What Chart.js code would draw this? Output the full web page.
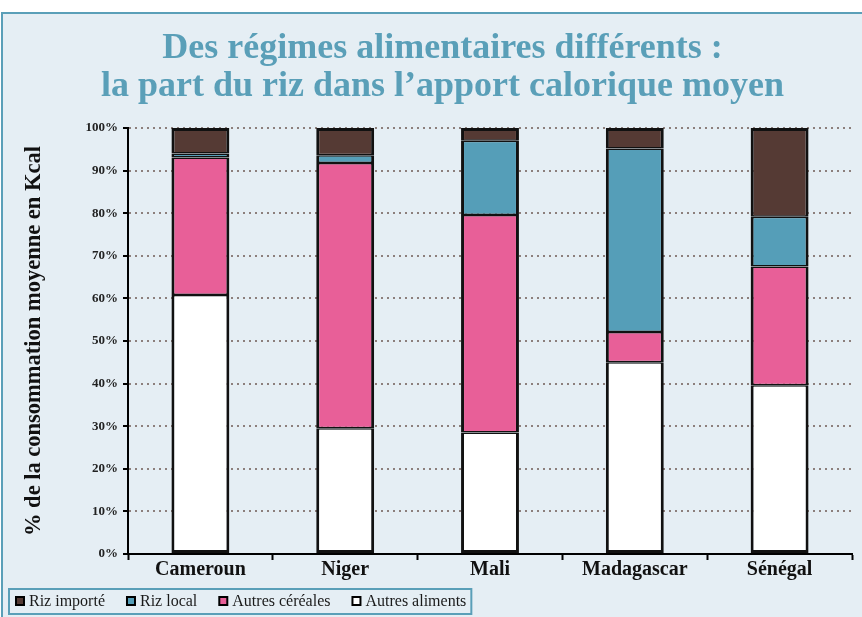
<!DOCTYPE html>
<html lang="fr">
<head>
    <meta charset="UTF-8">
    <title>Des régimes alimentaires différents</title>
    <script src="https://cdn.jsdelivr.net/npm/chart.js"></script>
    <style>
        html, body { margin: 0; padding: 0; background: #fff; overflow: hidden; }
        #frame {
            position: absolute; left: 1px; top: 12px;
            width: 900px; height: 640px;
            border: 2px solid #5a9fb8;
            background: #e5eef4;
        }
        #frame canvas { position: absolute; left: 0; top: 0; }
    </style>
</head>
<body>
    <div id="frame">
        <canvas id="chart" width="875" height="603"></canvas>
    </div>

    <script>
        // données (en % de l'apport calorique)
        const pays = ['Cameroun', 'Niger', 'Mali', 'Madagascar', 'Sénégal'];
        const autresAliments = [60.8, 29.5, 28.5, 45.0, 39.6];
        const autresCereales = [32.3, 62.3, 51.1, 7.1, 27.9];
        const rizLocal = [0.9, 1.8, 17.4, 43.1, 11.7];
        const rizImporte = [6.0, 6.4, 3.0, 4.8, 20.8];
        const graduations = [0, 10, 20, 30, 40, 50, 60, 70, 80, 90, 100];

        const serif = "'Liberation Serif', 'DejaVu Serif', serif";

        // légende dessinée à la main, dans un cadre
        const legendeEncadree = {
            id: 'legendeEncadree',
            afterDraw(chart) {
                const ctx = chart.ctx;
                const items = chart.data.datasets.slice().reverse();
                ctx.save();
                ctx.font = '16px ' + serif;
                ctx.textBaseline = 'middle';
                const y = 587;
                let x = 13;
                const boxLeft = 6;
                items.forEach(ds => {
                    ctx.fillStyle = ds.backgroundColor;
                    ctx.fillRect(x, y - 4, 8, 8);
                    ctx.lineWidth = 2;
                    ctx.strokeStyle = '#000';
                    ctx.strokeRect(x, y - 4, 8, 8);
                    ctx.fillStyle = '#1a1a1a';
                    ctx.fillText(ds.label, x + 13, y + 1);
                    x += 13 + ctx.measureText(ds.label).width + 22;
                });
                ctx.lineWidth = 2;
                ctx.strokeStyle = '#5a9fb8';
                ctx.strokeRect(boxLeft, y - 12, x - 22 + 5 - boxLeft, 25);
                ctx.restore();
            }
        };

        const dernier = 3;
        new Chart(document.getElementById('chart'), {
            type: 'bar',
            data: {
                labels: pays,
                datasets: [
                    { label: 'Autres aliments', data: autresAliments, backgroundColor: '#ffffff' },
                    { label: 'Autres céréales', data: autresCereales, backgroundColor: '#e85f98' },
                    { label: 'Riz local', data: rizLocal, backgroundColor: '#559eb8' },
                    { label: 'Riz importé', data: rizImporte, backgroundColor: '#553a34' }
                ].map((ds, i) => Object.assign(ds, {
                    borderColor: '#111',
                    borderWidth: { left: 3, right: 3, top: i === dernier ? 3 : 1.5, bottom: i === 0 ? 3 : 1.5 },
                    borderSkipped: false,
                    barPercentage: 0.4,
                    categoryPercentage: 1
                }))
            },
            options: {
                responsive: false,
                animation: false,
                layout: { padding: { left: 30, right: 26, top: 0, bottom: 37 } },
                plugins: {
                    legend: { display: false },
                    tooltip: { enabled: false },
                    title: {
                        display: true,
                        text: ['Des régimes alimentaires différents :', 'la part du riz dans l’apport calorique moyen'],
                        color: '#5a9fb8',
                        font: { family: serif, size: 36, weight: 'bold', lineHeight: 1.07 },
                        padding: { top: 15, bottom: 22 }
                    }
                },
                scales: {
                    x: {
                        stacked: true,
                        grid: {
                            drawOnChartArea: false,
                            drawTicks: true,
                            offset: true,
                            tickLength: 6,
                            tickColor: '#000',
                            tickWidth: 2
                        },
                        border: { color: '#000', width: 2 },
                        ticks: {
                            color: '#111',
                            padding: -2,
                            font: { family: serif, size: 20, weight: 'bold' }
                        }
                    },
                    y: {
                        stacked: true,
                        min: 0,
                        max: 100,
                        afterFit(scale) { scale.width = 95; },
                        afterBuildTicks(scale) { scale.ticks = graduations.map(v => ({ value: v })); },
                        grid: {
                            color: '#8c7f7c',
                            lineWidth: 2,
                            tickColor: '#000',
                            tickWidth: 2,
                            tickLength: 5,
                            tickBorderDash: []
                        },
                        border: { color: '#000', width: 2, dash: [2, 4] },
                        ticks: {
                            color: '#222',
                            padding: 5,
                            font: { family: serif, size: 13, weight: 'bold' },
                            callback: v => v + '%'
                        },
                        title: {
                            display: true,
                            text: '% de la consommation moyenne en Kcal',
                            color: '#111',
                            font: { family: serif, size: 22.5, weight: 'bold' },
                            padding: { top: -12, bottom: 0 }
                        }
                    }
                }
            },
            plugins: [legendeEncadree]
        });
    </script>
</body>
</html>
